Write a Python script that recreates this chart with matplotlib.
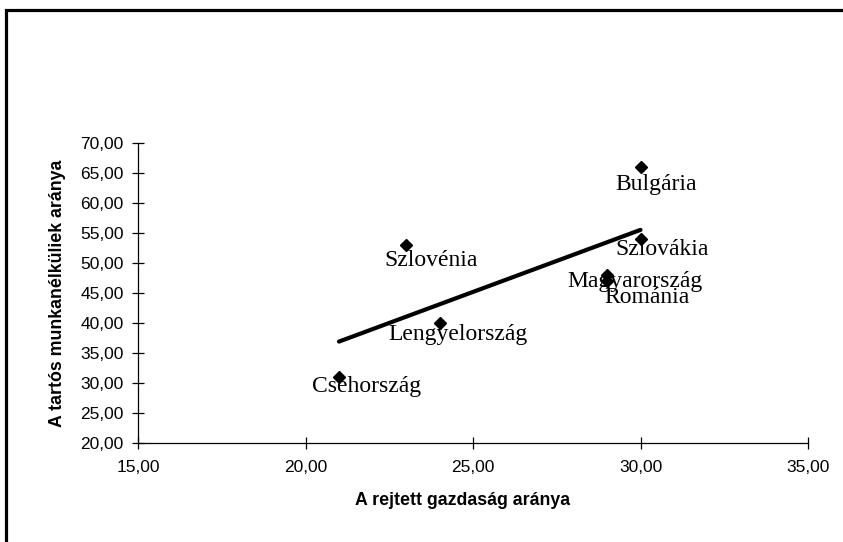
import matplotlib.pyplot as plt
import matplotlib.patches as patches
import numpy as np

# adatok
countries = ['Csehország', 'Lengyelország', 'Szlovénia', 'Magyarország',
             'Románia', 'Szlovákia', 'Bulgária']
rejtett = [21, 24, 23, 29, 29, 30, 30]
tartos = [31, 40, 53, 48, 47, 54, 66]

x_ticks = [15, 20, 25, 30, 35]
y_ticks = [20, 25, 30, 35, 40, 45, 50, 55, 60, 65, 70]

# címkék eltolása pixelben (x jobbra, y lefelé az alapvonalig)
label_dx = [28, 18, 25, 28, 40, 22, 16]
label_dy = [15, 17, 21, 12, 22, 16, 23]

fig = plt.figure(figsize=(8.43, 5.42), dpi=100)
ax = fig.add_axes([138 / 843, 1 - 443 / 542, 670 / 843, 300 / 542])

# külső keret
frame = patches.Rectangle((6 / 843, -0.1), 1.2, 1.1 - 9.5 / 542,
                          transform=fig.transFigure, fill=False,
                          edgecolor='black', linewidth=2.3, clip_on=False)
fig.patches.append(frame)

# trendvonal
x = np.array(rejtett, dtype=float)
y = np.array(tartos, dtype=float)
k, b = np.polyfit(x, y, 1)
xs = np.array([x.min(), x.max()])
ax.plot(xs, k * xs + b, color='black', linewidth=3, solid_capstyle='round', zorder=2)

# pontok
ax.plot(rejtett, tartos, linestyle='none', marker='D', markersize=6,
        color='black', zorder=3)

# pontcímkék
for name, xv, yv, dx, dy in zip(countries, rejtett, tartos, label_dx, label_dy):
    ax.annotate(name, (xv, yv), xytext=(dx, -dy), textcoords='offset pixels',
                ha='center', va='baseline', fontsize=17,
                family='Liberation Serif', color='black', zorder=4)

ax.set_xlim(15, 35)
ax.set_ylim(20, 70)
ax.set_xticks(x_ticks)
ax.set_yticks(y_ticks)
ax.set_xticklabels([f'{t:.2f}'.replace('.', ',') for t in x_ticks])
ax.set_yticklabels([f'{t:.2f}'.replace('.', ',') for t in y_ticks])

for side in ['top', 'right']:
    ax.spines[side].set_visible(False)
for side in ['left', 'bottom']:
    ax.spines[side].set_linewidth(0.9)

ax.tick_params(direction='inout', length=8.5, width=0.9, labelsize=12.5)
ax.tick_params(axis='x', pad=8)
ax.tick_params(axis='y', pad=6)
for lab in ax.get_xticklabels() + ax.get_yticklabels():
    lab.set_family('Liberation Sans')

ax.set_xlabel('A rejtett gazdaság aránya', fontsize=12.8, fontweight='bold',
              family='Liberation Sans')
ax.set_ylabel('A tartós munkanélküliek aránya', fontsize=12.8, fontweight='bold',
              family='Liberation Sans')
ax.xaxis.set_label_coords(0.484, -0.162)
ax.yaxis.set_label_coords(-0.107, 0.5)

fig.savefig('out.png', dpi=100)
